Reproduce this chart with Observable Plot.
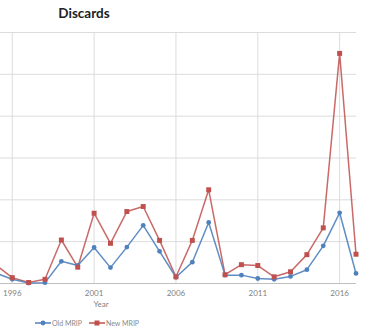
<!DOCTYPE html>
<html>
<head>
<meta charset="utf-8">
<script src="https://cdn.jsdelivr.net/npm/d3@7"></script>
<script src="https://cdn.jsdelivr.net/npm/@observablehq/plot@0.6"></script>
<style>
  html, body { margin: 0; padding: 0; background: #fff; overflow: hidden; }
  #wrap { position: relative; width: 368px; height: 336px; font-family: Lato, "Open Sans", sans-serif; }
  #title { position: absolute; top: 5px; left: 0; width: 168px; text-align: center; font-weight: bold; font-size: 13.5px; color: #222; }
  #xlabel { position: absolute; top: 299px; left: 81px; width: 40px; text-align: center; font-size: 8px; color: #7f7f7f; }
  #legend { position: absolute; top: 319px; left: 35px; font-size: 7px; color: #8a8a8a; display: flex; align-items: center; }
  #legend .item { display: flex; align-items: center; margin-right: 7px; }
  #legend svg { margin-right: 1px; }
</style>
</head>
<body>
<div id="wrap">
  <div id="chart"></div>
  <div id="title">Discards</div>
  <div id="xlabel">Year</div>
  <div id="legend"></div>
</div>
<script>
const years = [1995,1996,1997,1998,1999,2000,2001,2002,2003,2004,2005,2006,2007,2008,2009,2010,2011,2012,2013,2014,2015,2016,2017];
const oldMRIP = [0.25,0.10,0.01,0.02,0.53,0.43,0.86,0.38,0.87,1.39,0.77,0.15,0.51,1.46,0.20,0.20,0.12,0.10,0.17,0.33,0.90,1.69,0.24];
const newMRIP = [0.44,0.14,0.025,0.10,1.04,0.39,1.68,0.96,1.72,1.84,1.03,0.16,1.03,2.24,0.21,0.45,0.43,0.16,0.28,0.69,1.33,5.50,0.70];
const xTicks = [1996,2001,2006,2011,2016];
const yTicks = [1,2,3,4,5,6];
const seriesNames = ["Old MRIP","New MRIP"];
const colors = {"Old MRIP": "#4f81bd", "New MRIP": "#c0504d"};

const oldData = years.map((y,i) => ({year: y, value: oldMRIP[i], series: "Old MRIP"}));
const newData = years.map((y,i) => ({year: y, value: newMRIP[i], series: "New MRIP"}));

const chart = Plot.plot({
  width: 368,
  height: 336,
  marginTop: 32,
  marginBottom: 53,
  marginLeft: 0,
  marginRight: 12,
  style: {fontFamily: "Lato, 'Open Sans', sans-serif", background: "#fff"},
  x: {domain: [1995, 2017], range: [-4.6, 355.5], label: null},
  y: {domain: [0, 6], range: [283, 32], axis: null},
  marks: [
    Plot.gridY(yTicks, {stroke: "#dcdcdc", strokeOpacity: 1}),
    Plot.gridX(xTicks, {stroke: "#dcdcdc", strokeOpacity: 1}),
    Plot.ruleY([0], {stroke: "#bfbfbf", strokeWidth: 1}),
    Plot.axisX(xTicks, {tickSize: 0, tickPadding: 7, fontSize: 8, fill: "#7f7f7f", tickFormat: d => String(d), label: null}),
    Plot.line(newData, {x: "year", y: "value", stroke: colors["New MRIP"], strokeWidth: 1.5, strokeOpacity: 0.85}),
    Plot.line(oldData, {x: "year", y: "value", stroke: colors["Old MRIP"], strokeWidth: 1.5, strokeOpacity: 0.9}),
    Plot.dot(oldData, {x: "year", y: "value", symbol: "circle", r: 2.4, fill: colors["Old MRIP"], stroke: "none"}),
    Plot.dot(newData, {x: "year", y: "value", symbol: "square", r: 2.8, fill: colors["New MRIP"], stroke: "none"})
  ]
});
document.getElementById("chart").appendChild(chart);

const legend = document.getElementById("legend");
seriesNames.forEach(name => {
  const item = document.createElement("div");
  item.className = "item";
  const c = colors[name];
  const marker = name === "Old MRIP"
    ? `<circle cx="8" cy="4" r="2.4" fill="${c}"/>`
    : `<rect x="5.5" y="1.5" width="5" height="5" fill="${c}"/>`;
  item.innerHTML = `<svg width="16" height="8"><line x1="0" y1="4" x2="16" y2="4" stroke="${c}" stroke-width="1.5"/>${marker}</svg><span>${name}</span>`;
  legend.appendChild(item);
});
</script>
</body>
</html>
